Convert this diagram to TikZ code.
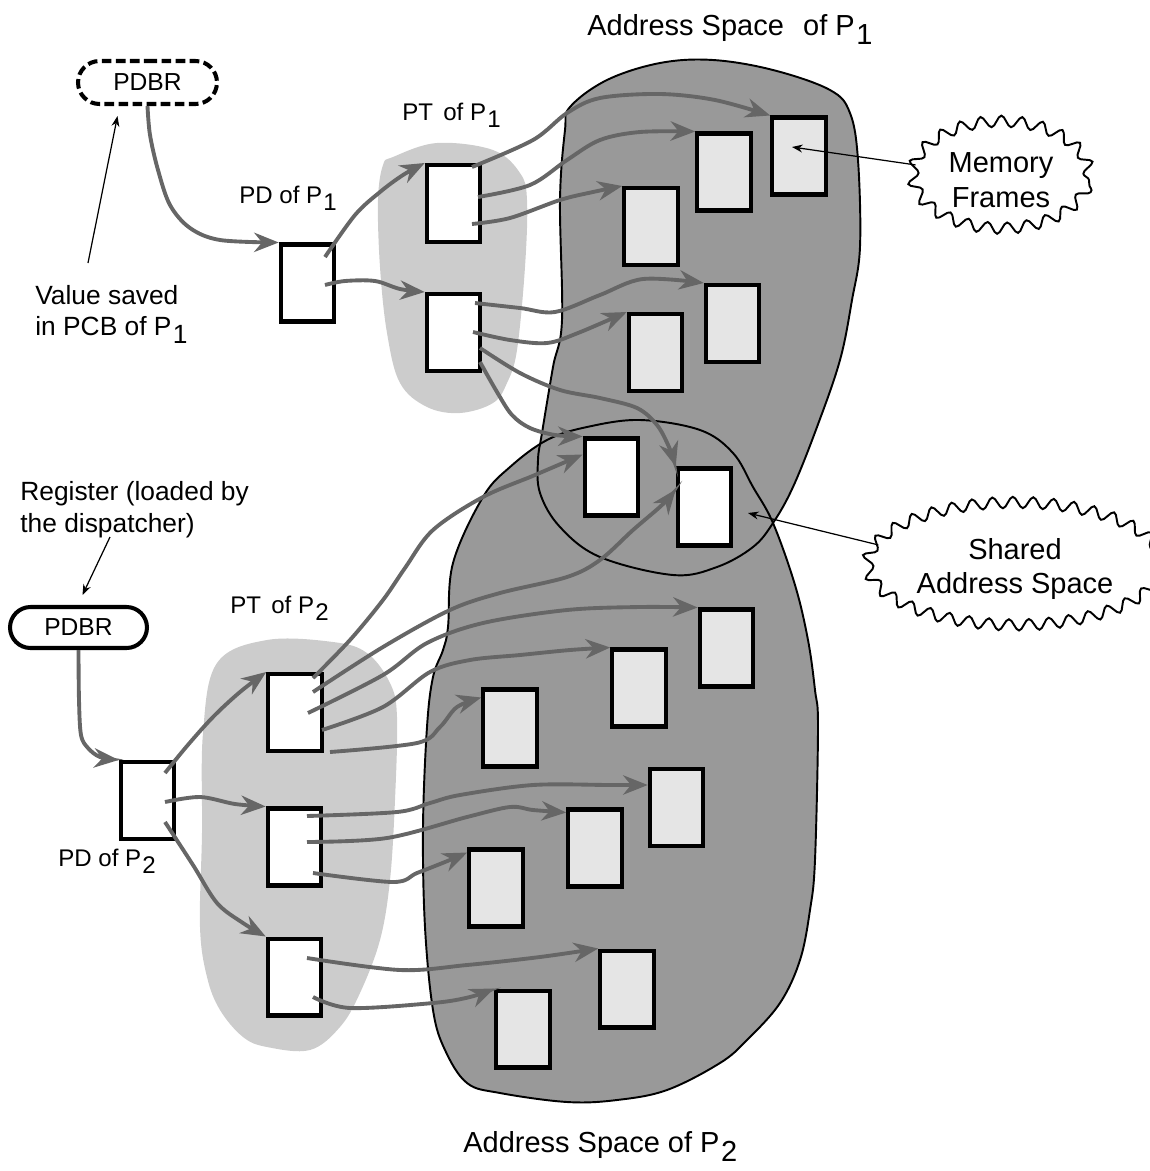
\documentclass[tikz,border=0pt]{standalone}
\usepackage{fontspec}
\setmainfont{Liberation Sans}
\usetikzlibrary{arrows.meta,shapes.misc,shapes.geometric,decorations.pathmorphing}
% lowered index digit, as in P1 / P2
\newcommand\pidx[1]{\kern0.05em\raisebox{-0.33em}{#1}}
\definecolor{spacefill}{gray}{0.6}
\definecolor{tablefill}{gray}{0.8}
\definecolor{framefill}{gray}{0.9}
\definecolor{ptrgray}{gray}{0.4}

\begin{document}
\begin{tikzpicture}[x=0.02cm,y=-0.02cm,
  every node/.style={font=\fontsize{13.7}{17.5}\selectfont},
  tablebox/.style={draw, line width=2.3pt, fill=white, minimum width=1.07cm, minimum height=1.54cm, inner sep=0pt},
  framebox/.style={tablebox, fill=framefill},
  ptr/.style={draw=ptrgray, line width=2.2pt, -{Stealth[length=14pt,width=11pt,inset=4.5pt]}},
  annot/.style={draw=black, line width=0.7pt, -{Stealth[length=6pt,width=4.5pt]}},
  regbox/.style={draw, rounded rectangle, line width=2.3pt, inner sep=0pt, font=\fontsize{14}{17}\selectfont},
  txt/.style={anchor=base west, inner sep=0pt},
  bigtxt/.style={txt, font=\fontsize{16.5}{20}\selectfont},
  notetxt/.style={txt, font=\fontsize{15}{18}\selectfont},
  spaceline/.style={draw=black, line width=1.1pt},
  cloudbox/.style={ellipse, draw=black, line width=1.1pt, fill=white, align=center,
    font=\fontsize{16.5}{19.8}\selectfont,
    decorate, decoration={snake, amplitude=3.2pt, segment length=11.5pt}},
]
\useasboundingbox (0,0) rectangle (1150,1171);

% page-table regions (light)
\fill[tablefill] plot[smooth cycle, tension=0.6] coordinates {
  (393,157) (437,143) (493,150) (520,173) (527,200) (525,267) (517,350) (507,383)
  (493,403) (460,413) (427,407) (400,383) (387,333) (380,267) (378,200) (383,165)};
\fill[tablefill] plot[smooth cycle, tension=0.6] coordinates {
  (217,663) (267,640) (333,642) (367,653) (390,683) (397,717) (395,800) (390,880)
  (380,940) (360,993) (340,1027) (310,1050) (267,1047) (243,1037) (220,1010)
  (207,977) (200,927) (202,833) (203,733)};

% address spaces of P1 and P2
\def\spaceone{plot[smooth cycle, tension=0.6] coordinates {
  (570,107) (607,80) (660,63) (713,60) (773,70) (830,90) (850,113) (858,160)
  (860,247) (852,300) (840,360) (817,427) (793,487) (773,523) (753,547) (717,567)
  (673,575) (600,557) (560,527) (540,493) (538,460) (542,433) (553,367) (562,320)
  (560,200) (565,130)}}
\def\spacetwo{plot[smooth cycle, tension=0.6] coordinates {
  (453,563) (448,627) (443,650) (433,677) (427,727) (423,827) (425,927) (433,1010)
  (445,1050) (467,1083) (500,1093) (567,1102) (617,1100) (667,1090) (720,1063)
  (747,1040) (780,1003) (800,960) (810,910) (815,860) (818,727) (815,690) (808,640)
  (795,585) (773,523) (753,487) (733,453) (700,430) (640,420) (587,427) (547,440)
  (510,467) (483,497)}}
\fill[spacefill] \spaceone;
\fill[spacefill] \spacetwo;
\draw[spaceline] \spaceone;
\draw[spaceline] \spacetwo;

% registers
\node[regbox, dashed, dash pattern=on 5.5pt off 2.5pt, minimum width=2.78cm, minimum height=0.86cm] (PDBR1) at (147.5,82.5) {PDBR};
\node[regbox, minimum width=2.74cm, minimum height=0.82cm] (PDBR2) at (78.5,627.5) {PDBR};

% directories and page tables
\node[tablebox] (PD1) at (307.5,283) {};
\node[tablebox] (PT1a) at (453.5,203.5) {};
\node[tablebox] (PT1b) at (453.5,332.5) {};
\node[tablebox] (PD2) at (147.5,800.5) {};
\node[tablebox] (T2a) at (295,712.5) {};
\node[tablebox] (T2b) at (294.5,847) {};
\node[tablebox] (T2c) at (294.5,977) {};

% frames of P1
\node[framebox] (F1) at (799,156) {};
\node[framebox] (F2) at (724,172) {};
\node[framebox] (F3) at (651,226.5) {};
\node[framebox] (F4) at (732.5,323.5) {};
\node[framebox] (F5) at (655.5,352.5) {};
% shared frames
\node[tablebox] (S1) at (611.5,477) {};
\node[tablebox] (S2) at (704.5,507) {};
% frames of P2
\node[framebox] (G1) at (726.5,648) {};
\node[framebox] (G2) at (639,688) {};
\node[framebox] (G3) at (510,728) {};
\node[framebox] (G4) at (676.5,807.5) {};
\node[framebox] (G5) at (595,848) {};
\node[framebox] (G6) at (496,888) {};
\node[framebox] (G7) at (627,989) {};
\node[framebox] (G8) at (523,1029) {};

% labels
\node[bigtxt] at (587,35) {Address Space\hspace{11pt}of P\pidx{1}};
\node[txt] at (402,120) {PT\kern2pt\ of P\pidx{1}};
\node[txt] at (239,203) {PD of P\pidx{1}};
\node[notetxt] (val1) at (35,304) {Value saved};
\node[notetxt] (val2) at (35,335) {in PCB of P\pidx{1}};
\node[notetxt] (reg1) at (20,500) {Register (loaded by};
\node[notetxt] (reg2) at (20,532) {the dispatcher)};
\node[txt] at (230,613) {PT\kern2pt\ of P\pidx{2}};
\node[txt] at (58,866) {PD of P\pidx{2}};
\node[bigtxt] at (463,1152) {Address Space of P\pidx{2}};

% callouts
\node[cloudbox, minimum width=3.52cm, minimum height=2.14cm] (mem) at (1001,180) {Memory\\Frames};
\node[cloudbox, minimum width=5.0cm, minimum height=2.45cm] (shr) at (1015,569) {Shared\\Address Space};

\coordinate (valtail) at (88,263);
\coordinate (regtail) at (110,537);
\draw[annot] (valtail) -- ([shift={(-30,10)}]PDBR1.south);
\draw[annot] (regtail) -- ([shift={(4,-10)}]PDBR2.north);
\draw[annot] (mem.170) -- ([shift={(-7,-9)}]F1.center);
\draw[annot] (shr.170) -- ([shift={(43.5,6)}]S2.center);

% pointers of P1
\draw[ptr] plot[smooth, tension=0.55] coordinates {(PDBR1.south) (150,135) (158,170) (170,205) (190,228) (220,240) (PD1.north west)};
\draw[ptr] plot[smooth, tension=0.55] coordinates {([shift={(17.5,-26)}]PD1.center) (355,215) (380,192) (403,175) (PT1a.north west)};
\draw[ptr] plot[smooth, tension=0.55] coordinates {([shift={(17.5,2)}]PD1.center) (345,281) (375,281) (400,289) (PT1b.north west)};
\draw[ptr] plot[smooth, tension=0.55] coordinates {([shift={(18.5,-36.5)}]PT1a.center) (533,140) (567,113) (600,98) (660,94) (715,100) (F1.north west)};
\draw[ptr] plot[smooth, tension=0.55] coordinates {([shift={(24.5,-6.5)}]PT1a.center) (530,185) (567,160) (600,140) (640,132) (F2.north west)};
\draw[ptr] plot[smooth, tension=0.55] coordinates {([shift={(18.5,20.5)}]PT1a.center) (510,218) (560,200) (593,192) (F3.north west)};
\draw[ptr] plot[smooth, tension=0.55] coordinates {([shift={(21.5,-29.5)}]PT1b.center) (520,308) (555,312) (600,295) (643,279) (F4.north west)};
\draw[ptr] plot[smooth, tension=0.55] coordinates {([shift={(19.5,-0.5)}]PT1b.center) (510,340) (547,343) (578,333) (F5.north west)};
\draw[ptr] plot[smooth, tension=0.55] coordinates {([shift={(26.5,15.5)}]PT1b.center) (520,373) (560,390) (600,398) (637,408) (657,425) (669,447) (S2.north west)};
\draw[ptr] plot[smooth, tension=0.55] coordinates {([shift={(26.5,29.5)}]PT1b.center) (497,392) (512,415) (530,428) (555,435) (S1.north west)};

% pointers of P2
\draw[ptr] plot[smooth, tension=0.55] coordinates {(PDBR2.south) (79,700) (81,735) (88,748) (100,757) (PD2.north west)};
\draw[ptr] plot[smooth, tension=0.55] coordinates {([shift={(17.5,-27.5)}]PD2.center) (187,746) (213,717) (240,692) (T2a.north west)};
\draw[ptr] plot[smooth, tension=0.55] coordinates {([shift={(17.5,1.5)}]PD2.center) (200,797) (235,804) (T2b.north west)};
\draw[ptr] plot[smooth, tension=0.55] coordinates {([shift={(17.5,21.5)}]PD2.center) (193,865) (217,903) (243,923) (T2c.north west)};
\draw[ptr] plot[smooth, tension=0.55] coordinates {([shift={(18,-34.5)}]T2a.center) (350,640) (383,600) (405,568) (433,530) (483,497) (535,475) ([shift={(0,18)}]S1.north west)};
\draw[ptr] plot[smooth, tension=0.55] coordinates {([shift={(18,-20.5)}]T2a.center) (383,647) (450,610) (500,593) (567,577) (600,560) (633,530) (662,505) ([shift={(0,23)}]S2.north west)};
\draw[ptr] plot[smooth, tension=0.55] coordinates {([shift={(13,0.5)}]T2a.center) (383,675) (427,643) (483,623) (567,610) (640,607) (G1.north west)};
\draw[ptr] plot[smooth, tension=0.55] coordinates {([shift={(27,17.5)}]T2a.center) (383,707) (430,672) (470,660) (520,655) (570,650) (G2.north west)};
\draw[ptr] plot[smooth, tension=0.55] coordinates {([shift={(35,39.5)}]T2a.center) (417,743) (440,727) (457,707) ([shift={(0,10)}]G3.north west)};
\draw[ptr] plot[smooth, tension=0.55] coordinates {([shift={(12.5,-31)}]T2b.center) (397,812) (430,803) (460,795) (533,785) (610,785) ([shift={(0,18)}]G4.north west)};
\draw[ptr] plot[smooth, tension=0.55] coordinates {([shift={(12.5,-5)}]T2b.center) (387,838) (467,817) (510,807) (533,810) ([shift={(0,5)}]G5.north west)};
\draw[ptr] plot[smooth, tension=0.55] coordinates {([shift={(18.5,26)}]T2b.center) (393,882) (417,873) (445,862) ([shift={(0,5)}]G6.north west)};
\draw[ptr] plot[smooth, tension=0.55] coordinates {([shift={(12.5,-19)}]T2c.center) (400,970) (467,965) (540,957) (G7.north west)};
\draw[ptr] plot[smooth, tension=0.55] coordinates {([shift={(18.5,20)}]T2c.center) (350,1008) (433,1003) (470,997) (G8.north west)};
\end{tikzpicture}
\end{document}
